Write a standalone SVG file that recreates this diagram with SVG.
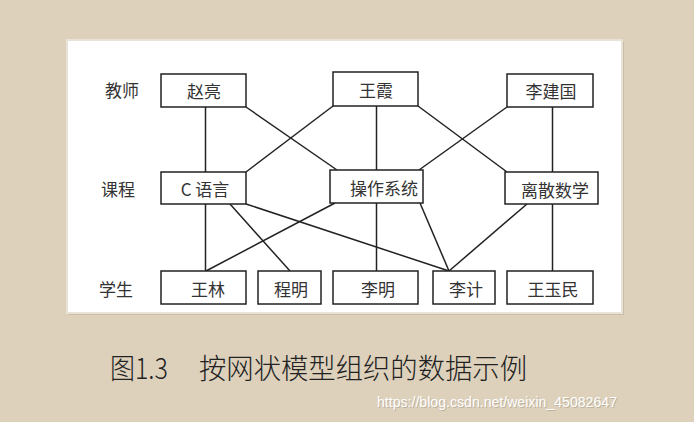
<svg xmlns="http://www.w3.org/2000/svg" width="694" height="422" viewBox="0 0 694 422">
<style>
.box{fill:#fff;stroke:#222;stroke-width:1.5}
.t{font-family:"Noto Sans CJK SC","Noto Sans CJK JP",sans-serif;font-size:17px;fill:#333;text-anchor:middle;dominant-baseline:central}
.lbl{font-family:"Noto Sans CJK SC",sans-serif;font-size:17px;fill:#333;text-anchor:middle;dominant-baseline:central}
.cn line{stroke:#222;stroke-width:1.5}
.wm{font-family:"Liberation Sans",sans-serif;font-size:15px}
</style>
<rect x="0" y="0" width="694" height="422" fill="#ddd1bc"/>
<rect x="69" y="42" width="555" height="273" fill="#c9bda8"/>
<rect x="67" y="40" width="555" height="273" fill="#fff" stroke="#e9e2d6" stroke-width="2"/>
<g id="row-labels">
<text class="lbl" x="122" y="89">教师</text>
<text class="lbl" x="118" y="188">课程</text>
<text class="lbl" x="116" y="288">学生</text>
</g>
<g id="connectors" class="cn">
<line x1="205.5" y1="107" x2="205.5" y2="172"/>
<line x1="246" y1="107" x2="337" y2="170"/>
<line x1="333" y1="106" x2="246" y2="172"/>
<line x1="376.5" y1="106" x2="376.5" y2="170"/>
<line x1="418" y1="106" x2="507" y2="172"/>
<line x1="507" y1="107" x2="419" y2="170"/>
<line x1="552.5" y1="107" x2="552.5" y2="172"/>
<line x1="205.5" y1="204" x2="205.5" y2="271"/>
<line x1="230" y1="204" x2="290" y2="271"/>
<line x1="246" y1="204" x2="449" y2="271"/>
<line x1="335" y1="203" x2="206" y2="271"/>
<line x1="376.5" y1="203" x2="376.5" y2="271"/>
<line x1="420" y1="203" x2="449" y2="271"/>
<line x1="527" y1="204" x2="449" y2="271"/>
<line x1="552.5" y1="204" x2="552.5" y2="271"/>
</g>
<g id="zhaoliang"><rect class="box" x="161" y="74" width="85" height="33"/><text class="t" x="204" y="90">赵亮</text></g>
<g id="wangxia"><rect class="box" x="333" y="72" width="85" height="34"/><text class="t" x="376" y="89">王霞</text></g>
<g id="lijianguo"><rect class="box" x="507" y="74" width="86" height="33"/><text class="t" x="551" y="90">李建国</text></g>
<g id="cyuyan"><rect class="box" x="161" y="172" width="85" height="32"/><text class="t" x="205" y="188">C 语言</text></g>
<g id="caozuoxitong"><rect class="box" x="330" y="170" width="93" height="33"/><text class="t" x="384" y="187">操作系统</text></g>
<g id="lisanshuxue"><rect class="box" x="505" y="172" width="93" height="32"/><text class="t" x="555" y="189">离散数学</text></g>
<g id="wanglin"><rect class="box" x="161" y="271" width="85" height="33"/><text class="t" x="208" y="288">王林</text></g>
<g id="chengming"><rect class="box" x="258" y="271" width="63" height="33"/><text class="t" x="291" y="288">程明</text></g>
<g id="liming"><rect class="box" x="333" y="271" width="85" height="33"/><text class="t" x="378" y="288">李明</text></g>
<g id="liji"><rect class="box" x="433" y="271" width="62" height="33"/><text class="t" x="466" y="288">李计</text></g>
<g id="wangyumin"><rect class="box" x="507" y="271" width="86" height="33"/><text class="t" x="553" y="288">王玉民</text></g>
<text x="110" y="379" font-family="'Noto Sans CJK SC',sans-serif" font-weight="300" font-size="28" fill="#222"><tspan textLength="58" lengthAdjust="spacingAndGlyphs">图1.3</tspan><tspan x="199" textLength="328" lengthAdjust="spacingAndGlyphs">按网状模型组织的数据示例</tspan></text>
<text class="wm" x="378" y="408" fill="#bfb39e" textLength="240" lengthAdjust="spacingAndGlyphs">https://blog.csdn.net/weixin_45082647</text>
<text class="wm" x="377" y="407" fill="#ffffff" textLength="240" lengthAdjust="spacingAndGlyphs">https://blog.csdn.net/weixin_45082647</text>
</svg>
